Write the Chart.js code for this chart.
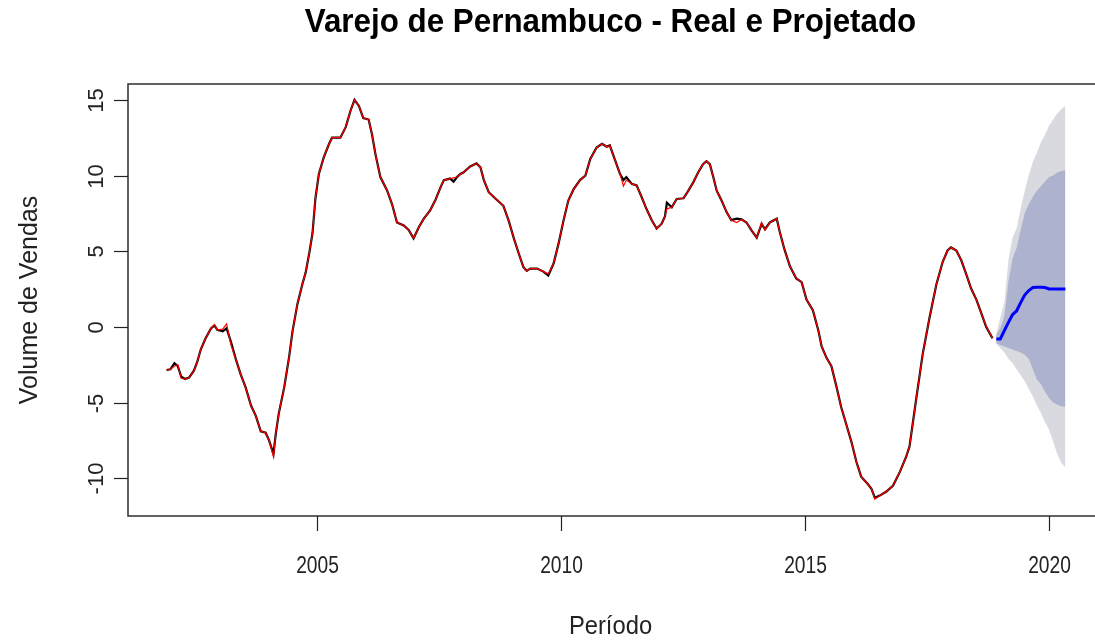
<!DOCTYPE html>
<html>
<head>
<meta charset="utf-8">
<title>Varejo de Pernambuco</title>
<script src="https://cdn.jsdelivr.net/npm/chart.js"></script>
<style>
  body { margin: 0; background: #fff; overflow: hidden; }
  #wrap { width: 1095px; height: 640px; }
</style>
</head>
<body>
<div id="wrap"><canvas id="chart"></canvas></div>
<script>
// observed series (black) and fitted values (red), time in decimal years
const years = [
  2001.92, 2002.00, 2002.08, 2002.15, 2002.22, 2002.30, 2002.38, 2002.48, 2002.55, 2002.62,
  2002.72, 2002.83, 2002.90, 2002.96, 2003.07, 2003.15, 2003.24, 2003.34, 2003.44, 2003.54,
  2003.65, 2003.75, 2003.85, 2003.95, 2004.02, 2004.11, 2004.16, 2004.22, 2004.33, 2004.43,
  2004.50, 2004.60, 2004.70, 2004.77, 2004.85, 2004.91, 2004.97, 2005.04, 2005.14, 2005.25,
  2005.31, 2005.40, 2005.48, 2005.59, 2005.69, 2005.77, 2005.86, 2005.95, 2006.06, 2006.13,
  2006.20, 2006.30, 2006.44, 2006.54, 2006.64, 2006.78, 2006.88, 2006.98, 2007.09, 2007.19,
  2007.32, 2007.43, 2007.53, 2007.60, 2007.73, 2007.80, 2007.87, 2007.94, 2008.00, 2008.14,
  2008.27, 2008.35, 2008.42, 2008.52, 2008.65, 2008.82, 2008.93, 2009.03, 2009.13, 2009.23,
  2009.30, 2009.37, 2009.51, 2009.64, 2009.74, 2009.85, 2009.95, 2010.05, 2010.15, 2010.26,
  2010.39, 2010.50, 2010.60, 2010.73, 2010.84, 2010.94, 2011.00, 2011.11, 2011.21, 2011.28,
  2011.34, 2011.45, 2011.55, 2011.65, 2011.75, 2011.86, 2011.96, 2012.06, 2012.13, 2012.17,
  2012.27, 2012.37, 2012.51, 2012.61, 2012.71, 2012.81, 2012.91, 2012.98, 2013.05, 2013.12,
  2013.19, 2013.29, 2013.39, 2013.49, 2013.60, 2013.70, 2013.80, 2013.90, 2014.01, 2014.11,
  2014.18, 2014.28, 2014.42, 2014.48, 2014.58, 2014.69, 2014.82, 2014.93, 2015.03, 2015.16,
  2015.27, 2015.34, 2015.44, 2015.54, 2015.64, 2015.74, 2015.85, 2015.95, 2016.05, 2016.15,
  2016.29, 2016.36, 2016.43, 2016.53, 2016.66, 2016.80, 2016.94, 2017.07, 2017.14, 2017.28,
  2017.41, 2017.55, 2017.69, 2017.82, 2017.92, 2017.99, 2018.10, 2018.20, 2018.30, 2018.40,
  2018.51, 2018.61, 2018.71, 2018.84
];
const actual = [
  -2.85, -2.8, -2.4, -2.6, -3.3, -3.45, -3.35, -2.9, -2.3, -1.5,
  -0.75, -0.1, 0.1, -0.2, -0.3, -0.1, -1.0, -2.15, -3.15, -4.0,
  -5.2, -5.9, -6.9, -7.0, -7.5, -8.4, -7.0, -5.7, -4.0, -2.0,
  -0.3, 1.5, 2.8, 3.6, 5.0, 6.2, 8.5, 10.1, 11.2, 12.1,
  12.5, 12.5, 12.5, 13.2, 14.3, 15.0, 14.6, 13.8, 13.7, 12.7,
  11.4, 9.9, 9.0, 8.1, 6.9, 6.7, 6.4, 5.85, 6.6, 7.15,
  7.7, 8.4, 9.2, 9.7, 9.8, 9.6, 9.9, 10.1, 10.2, 10.6,
  10.8, 10.55, 9.7, 8.9, 8.5, 8.0, 7.0, 5.9, 4.9, 3.95,
  3.7, 3.85, 3.85, 3.65, 3.4, 4.2, 5.5, 7.0, 8.35, 9.1,
  9.7, 10.0, 11.1, 11.85, 12.1, 11.9, 12.0, 11.0, 10.1, 9.7,
  9.9, 9.45, 9.35, 8.6, 7.8, 7.05, 6.5, 6.8, 7.3, 8.2,
  7.9, 8.45, 8.5, 9.0, 9.55, 10.2, 10.75, 10.95, 10.75, 9.9,
  9.0, 8.35, 7.6, 7.05, 7.15, 7.1, 6.9, 6.4, 5.9, 6.8,
  6.45, 6.9, 7.15, 6.3, 5.1, 4.0, 3.2, 2.95, 1.8, 1.1,
  -0.2, -1.3, -2.05, -2.6, -3.9, -5.3, -6.5, -7.6, -8.9, -9.9,
  -10.4, -10.7, -11.3, -11.15, -10.9, -10.5, -9.6, -8.6, -7.9, -4.7,
  -1.8, 0.6, 2.8, 4.3, 5.05, 5.25, 5.05, 4.4, 3.5, 2.55,
  1.8, 0.9, 0.0, -0.75
];
const fitted = [
  -2.85, -2.8, -2.6, -2.5, -3.4, -3.45, -3.35, -2.9, -2.3, -1.5,
  -0.75, -0.1, 0.15, -0.2, -0.15, 0.2, -1.2, -2.15, -3.15, -4.0,
  -5.2, -5.9, -6.9, -7.0, -7.5, -8.6, -7.0, -5.7, -4.0, -2.0,
  -0.3, 1.5, 2.8, 3.6, 5.0, 6.2, 8.5, 10.1, 11.2, 12.1,
  12.5, 12.5, 12.5, 13.2, 14.3, 15.0, 14.6, 13.8, 13.7, 12.7,
  11.4, 9.9, 9.0, 8.1, 6.9, 6.7, 6.4, 5.85, 6.6, 7.15,
  7.7, 8.4, 9.2, 9.7, 9.8, 9.85, 9.9, 10.1, 10.2, 10.6,
  10.8, 10.55, 9.7, 8.9, 8.5, 8.0, 7.0, 5.9, 4.9, 3.95,
  3.7, 3.85, 3.85, 3.65, 3.5, 4.2, 5.5, 7.0, 8.35, 9.1,
  9.7, 10.0, 11.1, 11.85, 12.1, 11.9, 12.0, 11.0, 10.1, 9.3,
  9.7, 9.45, 9.35, 8.6, 7.8, 7.05, 6.5, 6.8, 7.3, 7.8,
  7.9, 8.45, 8.5, 9.0, 9.55, 10.2, 10.75, 10.95, 10.75, 9.9,
  9.0, 8.35, 7.6, 7.05, 6.9, 7.1, 6.9, 6.4, 5.9, 6.9,
  6.4, 6.9, 7.15, 6.3, 5.1, 4.0, 3.2, 2.95, 1.8, 1.1,
  -0.2, -1.3, -2.05, -2.6, -3.9, -5.3, -6.5, -7.6, -8.9, -9.9,
  -10.4, -10.7, -11.4, -11.15, -10.9, -10.5, -9.6, -8.6, -7.9, -4.7,
  -1.8, 0.6, 2.8, 4.3, 5.05, 5.25, 5.05, 4.4, 3.5, 2.55,
  1.8, 0.9, 0.05, -0.75
];

// forecast (blue) with 80% and 95% intervals
const fcYears = [
  2018.917, 2019.0, 2019.083, 2019.167, 2019.25, 2019.333, 2019.417, 2019.5, 2019.583,
  2019.667, 2019.75, 2019.833, 2019.917, 2020.0, 2020.083, 2020.167, 2020.25, 2020.333
];
const fcMean = [-0.8, -0.8, -0.25, 0.3, 0.8, 1.05, 1.6, 2.1, 2.4, 2.6, 2.62, 2.62, 2.6, 2.5, 2.5, 2.5, 2.5, 2.5];
const fcHi80 = [-0.5, -0.1, 0.7, 3.0, 4.5, 5.2, 6.4, 7.5, 8.1, 8.6, 9.0, 9.3, 9.6, 9.9, 10.0, 10.2, 10.3, 10.35];
const fcLo80 = [-1.1, -1.2, -1.3, -1.4, -1.5, -1.6, -1.7, -1.85, -2.1, -2.8, -3.5, -3.8, -4.3, -4.7, -5.0, -5.15, -5.25, -5.3];
const fcHi95 = [-0.5, 0.6, 1.6, 4.4, 5.9, 6.5, 7.8, 9.0, 10.0, 10.9, 11.5, 12.2, 12.7, 13.3, 13.7, 14.1, 14.4, 14.6];
const fcLo95 = [-1.1, -1.4, -1.7, -2.1, -2.4, -2.8, -3.2, -3.6, -4.1, -4.6, -5.2, -5.7, -6.3, -6.8, -7.6, -8.4, -9.0, -9.3];

const xTicks = [2005, 2010, 2015, 2020];
const yTicks = [-10, -5, 0, 5, 10, 15];

const titleText = "Varejo de Pernambuco - Real e Projetado";
const xLabel = "Período";
const yLabel = "Volume de Vendas";

function pts(xs, ys) {
  return xs.map((x, i) => ({ x: x, y: ys[i] }));
}

function lineSet(data, color, width, extra) {
  return Object.assign({
    data: data,
    borderColor: color,
    borderWidth: width,
    pointRadius: 0,
    tension: 0,
    fill: false
  }, extra || {});
}

// text squeezed a little sideways, like the source screenshot
function squeezed(ctx, text, x, y, sx, rot) {
  ctx.save();
  ctx.translate(x, y);
  if (rot) ctx.rotate(rot);
  ctx.scale(sx, 1);
  ctx.fillText(text, 0, 0);
  ctx.restore();
}

// R-style frame, axes and titles
const rFrame = {
  id: "rFrame",
  afterDraw(chart) {
    const ctx = chart.ctx;
    const a = chart.chartArea;
    const xs = chart.scales.x;
    const ys = chart.scales.y;
    ctx.save();

    // box runs off the right edge of the picture
    ctx.strokeStyle = "#3a3a3a";
    ctx.lineWidth = 1.6;
    ctx.strokeRect(a.left, a.top, a.right - a.left + 6, a.bottom - a.top);

    ctx.strokeStyle = "#222";
    ctx.lineWidth = 1.2;
    ctx.fillStyle = "#222";
    ctx.textAlign = "center";
    ctx.textBaseline = "middle";

    ctx.font = "24px 'Liberation Sans', Arial, sans-serif";
    xTicks.forEach(v => {
      const px = Math.round(xs.getPixelForValue(v)) + 0.5;
      ctx.beginPath();
      ctx.moveTo(px, a.bottom);
      ctx.lineTo(px, a.bottom + 15);
      ctx.stroke();
      squeezed(ctx, String(v), px, 566, 0.8);
    });

    ctx.font = "22px 'Liberation Sans', Arial, sans-serif";
    yTicks.forEach(v => {
      const py = Math.round(ys.getPixelForValue(v)) + 0.5;
      ctx.beginPath();
      ctx.moveTo(a.left - 14, py);
      ctx.lineTo(a.left, py);
      ctx.stroke();
      squeezed(ctx, String(v), 97, py, 1, -Math.PI / 2);
    });

    ctx.font = "25px 'Liberation Sans', Arial, sans-serif";
    squeezed(ctx, xLabel, (a.left + 1093) / 2, 627, 0.95);
    squeezed(ctx, yLabel, 30, (a.top + a.bottom) / 2, 1, -Math.PI / 2);

    ctx.fillStyle = "#000";
    ctx.font = "bold 33px 'Liberation Sans', Arial, sans-serif";
    squeezed(ctx, titleText, (a.left + 1093) / 2, 23, 0.95);

    ctx.restore();
  }
};

new Chart(document.getElementById("chart"), {
  type: "line",
  data: {
    datasets: [
      lineSet(pts(fcYears, fcMean), "#0000ff", 3),
      lineSet(pts(years, fitted), "#ff0000", 1.2),
      lineSet(pts(years, actual), "#000000", 2.2),
      lineSet(pts(fcYears, fcHi80), "rgba(0,0,0,0)", 0, { fill: "+1", backgroundColor: "#adb2cf" }),
      lineSet(pts(fcYears, fcLo80), "rgba(0,0,0,0)", 0),
      lineSet(pts(fcYears, fcHi95), "rgba(0,0,0,0)", 0, { fill: "+1", backgroundColor: "#d9d9e0" }),
      lineSet(pts(fcYears, fcLo95), "rgba(0,0,0,0)", 0)
    ]
  },
  options: {
    responsive: true,
    maintainAspectRatio: false,
    animation: false,
    layout: { padding: { left: 128, right: 0, top: 84, bottom: 124 } },
    plugins: {
      legend: { display: false },
      tooltip: { enabled: false },
      title: { display: false }
    },
    scales: {
      x: { type: "linear", min: 2001.13, max: 2020.94, display: false },
      y: { type: "linear", min: -12.5, max: 16.05, display: false }
    }
  },
  plugins: [rFrame]
});
</script>
</body>
</html>
